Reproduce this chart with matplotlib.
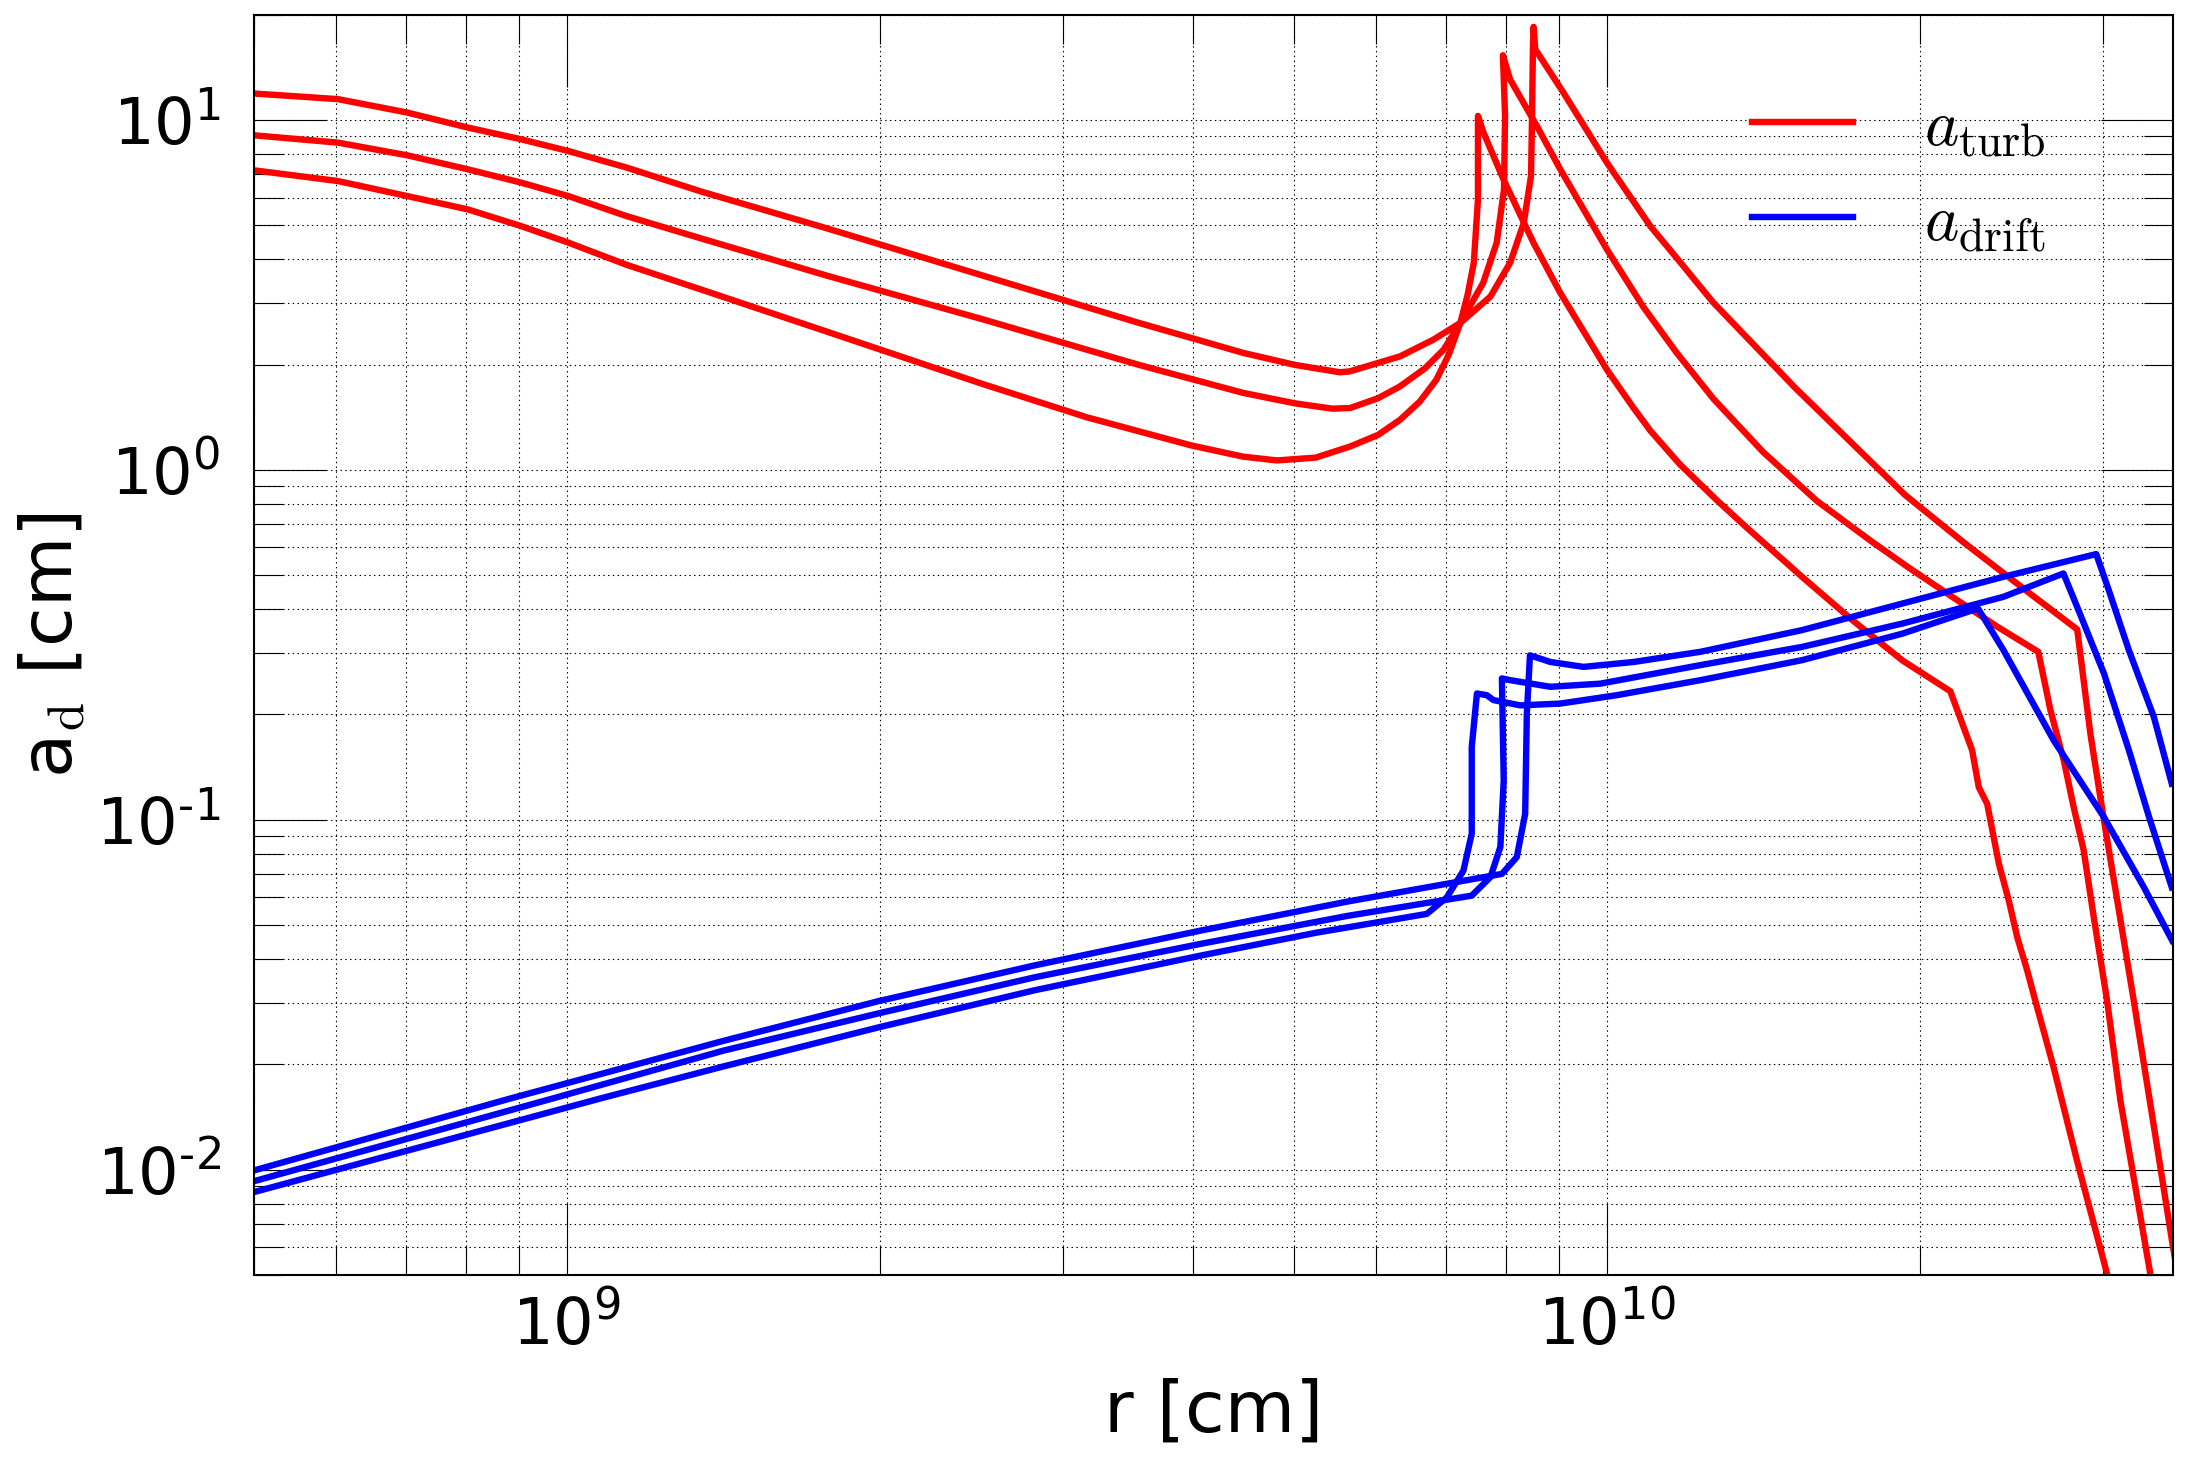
import numpy as np
import matplotlib.pyplot as plt
from matplotlib.font_manager import FontProperties
from matplotlib.ticker import FuncFormatter

plt.rcParams['axes.unicode_minus'] = False

# radius in units of 1e9 cm, grain size in cm
r_turb_1 = [0.50, 0.602, 0.702, 0.803, 0.904, 1.003, 1.141, 1.349, 1.778, 2.512, 3.162, 3.981, 4.467, 4.815, 5.248,
            5.662, 6.026, 6.324, 6.607, 6.855, 7.047, 7.228, 7.345, 7.447, 7.516, 7.516, 7.609, 7.953, 8.499, 9.018,
            10.0, 10.60, 11.01, 11.75, 12.75, 13.62, 15.40, 17.22, 19.25, 21.39, 22.45, 22.78, 23.21, 23.82, 24.35,
            24.81, 25.36, 25.82, 26.89, 28.32, 30.90]
a_turb_1 = [7.18, 6.69, 6.06, 5.55, 4.97, 4.46, 3.855, 3.268, 2.483, 1.758, 1.413, 1.175, 1.091, 1.064, 1.084,
            1.166, 1.259, 1.390, 1.567, 1.810, 2.138, 2.630, 3.162, 3.908, 5.93, 10.27, 9.20, 6.76, 4.457, 3.206,
            1.933, 1.507, 1.294, 1.038, 0.820, 0.685, 0.495, 0.372, 0.285, 0.233, 0.158, 0.124, 0.111, 0.0748, 0.0587,
            0.0461, 0.0371, 0.0304, 0.0196, 0.0106, 0.0040]

r_turb_2 = [0.50, 0.602, 0.702, 0.803, 0.904, 1.003, 1.141, 1.349, 1.778, 2.512, 3.548, 4.467, 5.012, 5.445, 5.662,
            6.026, 6.324, 6.683, 6.966, 7.228, 7.603, 7.834, 7.962, 7.981, 7.943, 8.067, 8.563, 9.018, 10.0, 10.84,
            11.66, 12.66, 14.13, 15.92, 18.0, 19.50, 21.51, 23.71, 25.99, 26.70, 27.50, 28.11, 28.74, 29.39, 30.27,
            31.18, 33.32, 33.81]
a_turb_2 = [9.04, 8.615, 7.925, 7.225, 6.617, 6.06, 5.311, 4.576, 3.589, 2.692, 1.995, 1.660, 1.549, 1.496, 1.502,
            1.603, 1.732, 1.950, 2.206, 2.630, 3.423, 4.457, 6.335, 10.26, 15.31, 13.08, 9.61, 7.228, 4.266, 2.921,
            2.168, 1.596, 1.125, 0.815, 0.622, 0.526, 0.4325, 0.357, 0.302, 0.2056, 0.1479, 0.1086, 0.0817, 0.0526, 0.0304,
            0.0157, 0.00501, 0.0040]

r_turb_3 = [0.50, 0.602, 0.702, 0.803, 0.904, 1.003, 1.141, 1.349, 1.778, 2.512, 3.548, 4.467, 5.012, 5.534, 5.659,
            6.324, 6.808, 7.228, 7.727, 8.072, 8.318, 8.453, 8.472, 8.488, 8.501, 8.533, 9.082, 10.0, 11.01, 11.75,
            12.64, 13.80, 15.17, 17.10, 19.35, 22.01, 25.42, 28.33, 29.17, 30.06, 30.96, 32.11, 33.08, 34.07, 34.95, 35.48]
a_turb_3 = [11.90, 11.47, 10.50, 9.51, 8.80, 8.15, 7.31, 6.23, 4.90, 3.59, 2.63, 2.16, 1.995, 1.901, 1.912,
            2.11, 2.355, 2.63, 3.13, 3.91, 5.08, 6.92, 10.26, 15.92, 18.45, 15.92, 11.97, 7.55, 4.97, 3.936,
            3.020, 2.301, 1.716, 1.213, 0.848, 0.622, 0.447, 0.350, 0.176, 0.0995, 0.0587, 0.0304, 0.0175, 0.0101, 0.00625, 0.00479]

r_drift_1 = [0.50, 1.081, 1.413, 1.995, 2.818, 4.062, 5.248, 6.712, 7.015, 7.278, 7.413, 7.413, 7.499, 7.665, 7.780,
             8.254, 9.016, 10.22, 12.30, 15.40, 19.25, 22.74, 24.06, 26.89, 30.06, 32.84, 34.97]
a_drift_1 = [0.00863, 0.01603, 0.01972, 0.02553, 0.03258, 0.04088, 0.04753, 0.05383, 0.0600, 0.0716, 0.0912, 0.1614, 0.2296, 0.2270, 0.2198,
             0.2123, 0.2148, 0.2270, 0.2506, 0.2858, 0.3406, 0.4018, 0.3055, 0.1687, 0.1017, 0.0641, 0.0451]

r_drift_2 = [0.50, 0.9727, 1.413, 1.995, 2.818, 4.062, 5.623, 7.413, 7.727, 7.898, 7.957, 7.925, 8.072, 8.822, 9.854,
             12.30, 15.40, 19.25, 24.06, 27.48, 28.41, 30.06, 31.77, 33.22, 34.93]
a_drift_2 = [0.00927, 0.01603, 0.02188, 0.02799, 0.03548, 0.04416, 0.05309, 0.0607, 0.0686, 0.0836, 0.1296, 0.2535, 0.2506, 0.2399, 0.2449,
             0.2767, 0.3119, 0.3639, 0.4337, 0.5058, 0.3973, 0.2618, 0.1579, 0.1017, 0.0641]

r_drift_3 = [0.50, 0.881, 1.413, 1.995, 2.818, 4.062, 5.623, 7.925, 8.191, 8.344, 8.375, 8.433, 8.822, 9.495, 10.61,
             12.30, 15.40, 19.25, 24.06, 29.55, 30.38, 31.76, 33.57, 34.93]
a_drift_3 = [0.00995, 0.01596, 0.02333, 0.03034, 0.03837, 0.04819, 0.05834, 0.07003, 0.0782, 0.1040, 0.2010, 0.2951, 0.2825, 0.2735, 0.2825,
             0.302, 0.3483, 0.4152, 0.4948, 0.5745, 0.4534, 0.3055, 0.1968, 0.1268]

turb = [(r_turb_1, a_turb_1), (r_turb_2, a_turb_2), (r_turb_3, a_turb_3)]
drift = [(r_drift_1, a_drift_1), (r_drift_2, a_drift_2), (r_drift_3, a_drift_3)]

fig = plt.figure(figsize=(21.88, 14.63), dpi=100)
ax = fig.add_axes([0.1161, 0.1285, 0.8769, 0.8615])

for i, (r, a) in enumerate(turb):
    ax.plot([x * 1e9 for x in r], a, color='red', lw=4.6,
            label=r'$a_{\rm turb}$' if i == 0 else None)
for i, (r, a) in enumerate(drift):
    ax.plot([x * 1e9 for x in r], a, color='blue', lw=4.6,
            label=r'$a_{\rm drift}$' if i == 0 else None)

ax.set_xscale('log')
ax.set_yscale('log')
ax.set_xlim(5e8, 3.5e10)
ax.set_ylim(5e-3, 20)


# exponent with a plain hyphen, as in the original
def pow_label(v, pos):
    e = int(round(np.log10(v)))
    s = str(e).replace('-', r'\text{-}')
    return r'$\mathdefault{10^{%s}}$' % s


ax.yaxis.set_major_formatter(FuncFormatter(pow_label))

ax.grid(True, which='both', color='k', linestyle=(0, (1.3, 3.0)), linewidth=0.8)
ax.set_axisbelow(True)

ax.tick_params(which='both', direction='in', top=True, right=True, labelsize=46)
ax.tick_params(which='major', length=52, width=0.8)
ax.tick_params(which='minor', length=21, width=0.8)
ax.tick_params(axis='x', pad=14)
ax.tick_params(axis='y', pad=24)
for s in ax.spines.values():
    s.set_linewidth(1.5)

ax.set_xlabel('r [cm]', fontsize=52)
ax.set_ylabel(r'a$_{\rm d}$ [cm]', fontsize=52, math_fontfamily='cm')
ax.xaxis.set_label_coords(0.5, -0.081)
ax.yaxis.set_label_coords(-0.087, 0.5)

leg = ax.legend(loc='upper left', bbox_to_anchor=(0.7807, 0.9363), frameon=False,
                prop=FontProperties(size=47, math_fontfamily='cm'),
                handlelength=1.55, handletextpad=1.09, labelspacing=0.48,
                borderpad=0, borderaxespad=0)

plt.savefig('out.png')
